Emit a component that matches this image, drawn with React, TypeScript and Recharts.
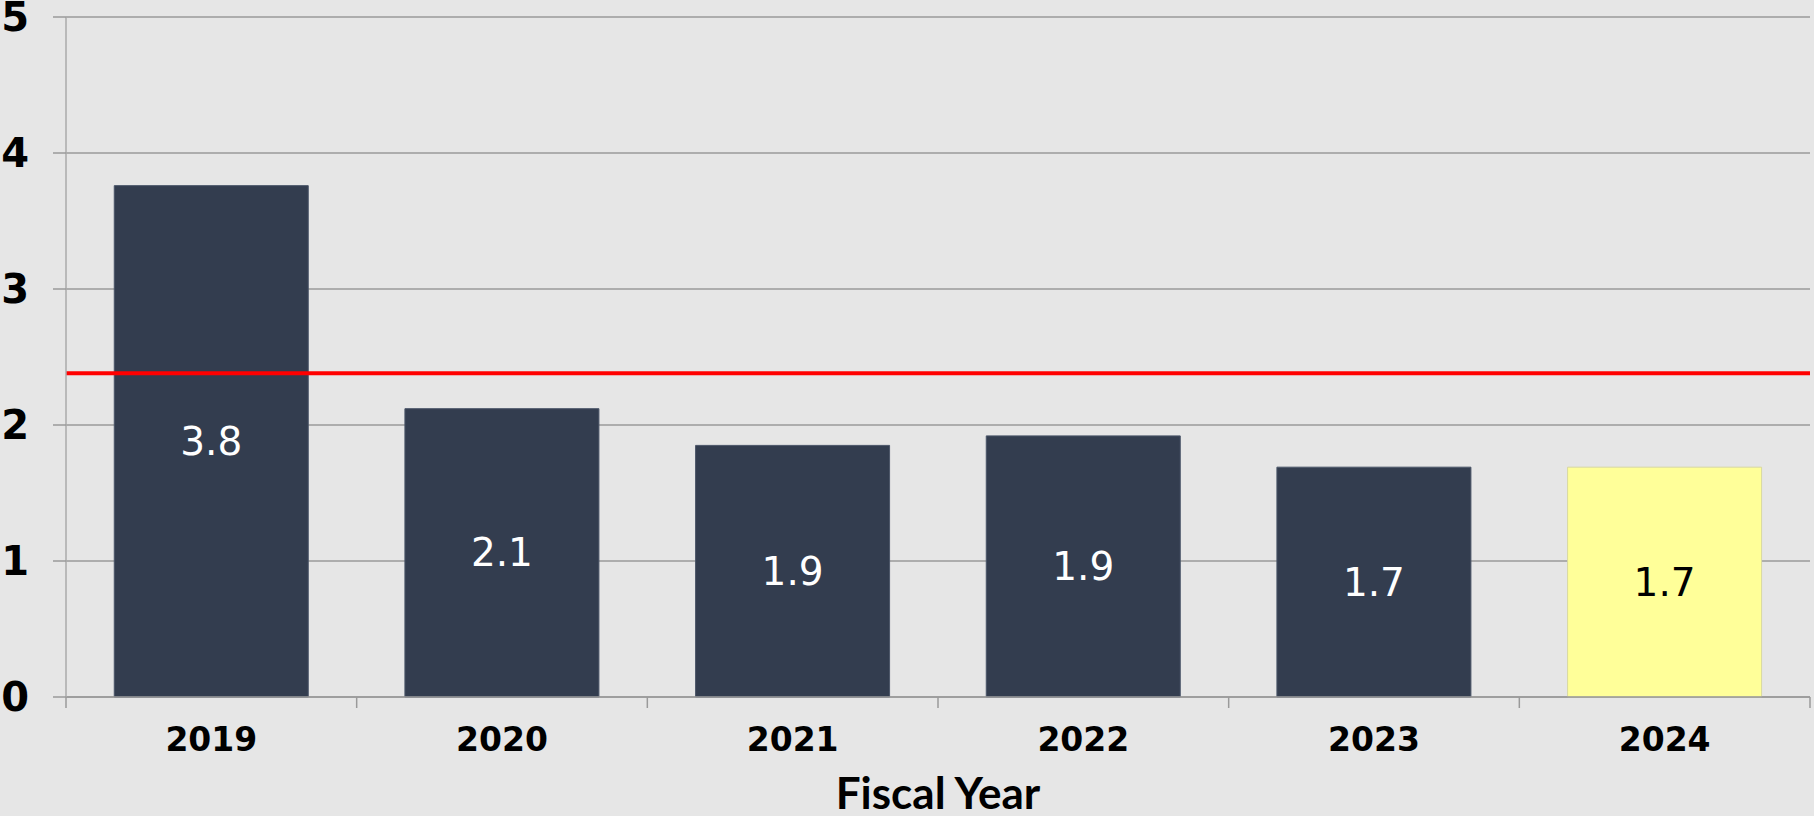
import React from 'react';
import { BarChart, Bar, XAxis, YAxis, CartesianGrid, ReferenceLine, Cell, LabelList, Label } from 'recharts';

const years = ['2019', '2020', '2021', '2022', '2023', '2024'];
const values = [3.76, 2.12, 1.85, 1.92, 1.69, 1.69];
const labels = ['3.8', '2.1', '1.9', '1.9', '1.7', '1.7'];
const barColors = ['#333D4F', '#333D4F', '#333D4F', '#333D4F', '#333D4F', '#FFFF99'];
const labelColors = ['#FFFFFF', '#FFFFFF', '#FFFFFF', '#FFFFFF', '#FFFFFF', '#000000'];
const yTicks = [0, 1, 2, 3, 4, 5];
const targetValue = 2.38;

const data = years.map((y, i) => ({ year: y, value: values[i], label: labels[i] }));

const W = 1814;
const H = 816;
const PLOT_LEFT = 66;
const PLOT_RIGHT = 4;
const BAND = (W - PLOT_LEFT - PLOT_RIGHT) / years.length;

const XTick = (props: any) => {
  const { x, y, payload, index } = props;
  const half = payload && payload.offset ? payload.offset : BAND / 2;
  const axisY = y - 29;
  return (
    <g>
      <line x1={x - half} x2={x - half} y1={axisY} y2={axisY + 11} stroke="#9a9a9a" strokeWidth={1.5} />
      {index === years.length - 1 && (
        <line x1={x + half} x2={x + half} y1={axisY} y2={axisY + 11} stroke="#9a9a9a" strokeWidth={1.5} />
      )}
      <text x={x} y={y + 25} textAnchor="middle" fontFamily="DejaVu Sans" fontWeight="bold" fontSize={33} fill="#000">
        {payload.value}
      </text>
    </g>
  );
};

const BarLabel = (props: any) => {
  const { x, y, width, height, index, value } = props;
  return (
    <text
      x={x + width / 2}
      y={y + height / 2}
      textAnchor="middle"
      dominantBaseline="central"
      fontFamily="DejaVu Sans"
      fontSize={39}
      fill={labelColors[index]}
    >
      {value}
    </text>
  );
};

export default function App() {
  return (
    <div style={{ position: 'absolute', left: 0, top: 0, width: W, height: H, background: '#E6E6E6' }}>
      <BarChart
        width={W}
        height={H}
        data={data}
        margin={{ top: 17, right: PLOT_RIGHT, left: 0, bottom: 0 }}
        barCategoryGap="16.6%"
      >
        <CartesianGrid vertical={false} stroke="#9a9a9a" strokeWidth={1.5} />
        <XAxis
          dataKey="year"
          height={119}
          tickLine={false}
          tickSize={11}
          tickMargin={18}
          axisLine={{ stroke: '#9a9a9a', strokeWidth: 1.5 }}
          tick={<XTick />}
          interval={0}
        >
          <Label
            value="Fiscal Year"
            position="insideBottom"
            offset={7}
            style={{ fontFamily: 'Lato', fontWeight: 'bold', fontSize: 44, fill: '#000' }}
          />
        </XAxis>
        <YAxis
          width={PLOT_LEFT}
          domain={[0, 5]}
          ticks={yTicks}
          interval={0}
          tickSize={13}
          tickMargin={24}
          tickLine={{ stroke: '#9a9a9a', strokeWidth: 1.5 }}
          axisLine={{ stroke: '#aaaaaa', strokeWidth: 1.5 }}
          tick={{ fontFamily: 'DejaVu Sans', fontWeight: 'bold', fontSize: 40, fill: '#000' }}
        />
        <Bar dataKey="value" isAnimationActive={false} stroke="#4a5568" strokeWidth={1}>
          {data.map((d, i) => (
            <Cell key={d.year} fill={barColors[i]} stroke={i === years.length - 1 ? '#d8d8a0' : '#4a5568'} />
          ))}
          <LabelList dataKey="label" content={<BarLabel />} />
        </Bar>
        <ReferenceLine y={targetValue} stroke="#FF0000" strokeWidth={4} ifOverflow="extendDomain" />
      </BarChart>
    </div>
  );
}
